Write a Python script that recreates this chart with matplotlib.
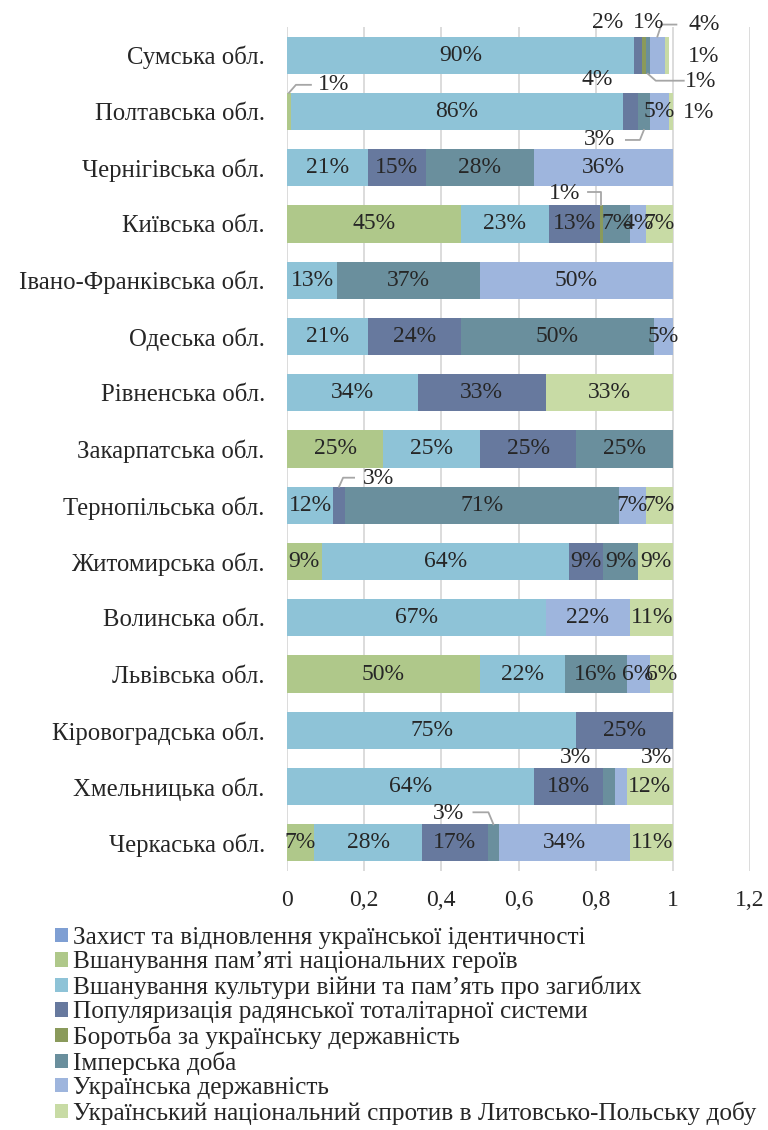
import numpy as np
import matplotlib
matplotlib.use("Agg")
import matplotlib.pyplot as plt
from matplotlib.lines import Line2D

plt.rcParams["font.family"] = ["Liberation Serif", "DejaVu Serif"]

regions = ["Сумська обл.", "Полтавська обл.", "Чернігівська обл.", "Київська обл.",
           "Івано-Франківська обл.", "Одеська обл.", "Рівненська обл.",
           "Закарпатська обл.", "Тернопільська обл.", "Житомирська обл.",
           "Волинська обл.", "Львівська обл.", "Кіровоградська обл.",
           "Хмельницька обл.", "Черкаська обл."]

series_names = ["Захист та відновлення української ідентичності",
                "Вшанування пам’яті національних героїв",
                "Вшанування культури війни та пам’ять про загиблих",
                "Популяризація радянської тоталітарної системи",
                "Боротьба за українську державність",
                "Імперська доба",
                "Українська державність",
                "Український національний спротив в Литовсько-Польську добу"]

colors = ["#7F9FD3", "#AFC88A", "#8EC3D7", "#67799E",
          "#8A9A5B", "#6A8F9D", "#9EB5DD", "#C8DBA5"]

# shares per region, one list per series (same order as regions)
identity   = [0,    0,    0,    0,    0,    0,    0,    0,    0,    0,    0,    0,    0,    0,    0]
heroes     = [0,    0.01, 0,    0.45, 0,    0,    0,    0.25, 0,    0.09, 0,    0.50, 0,    0,    0.07]
war        = [0.90, 0.86, 0.21, 0.23, 0.13, 0.21, 0.34, 0.25, 0.12, 0.64, 0.67, 0.22, 0.75, 0.64, 0.28]
soviet     = [0.02, 0.04, 0.15, 0.13, 0,    0.24, 0.33, 0.25, 0.03, 0.09, 0,    0,    0.25, 0.18, 0.17]
struggle   = [0.01, 0,    0,    0.01, 0,    0,    0,    0,    0,    0,    0,    0,    0,    0,    0]
imperial   = [0.01, 0.03, 0.28, 0.07, 0.37, 0.50, 0,    0.25, 0.71, 0.09, 0,    0.16, 0,    0.03, 0.03]
statehood  = [0.04, 0.05, 0.36, 0.04, 0.50, 0.05, 0,    0,    0.07, 0,    0.22, 0.06, 0,    0.03, 0.34]
resistance = [0.01, 0.01, 0,    0.07, 0,    0,    0.33, 0,    0.07, 0.09, 0.11, 0.06, 0,    0.12, 0.11]

xticks = [0, 0.2, 0.4, 0.6, 0.8, 1.0, 1.2]
xtick_labels = ["0", "0,2", "0,4", "0,6", "0,8", "1", "1,2"]

# small segments labelled beside the bar: offset of the label (px, y down) from segment centre
beside = {
    (0, 3): (-30, -33), (0, 4): (5, -33), (0, 7): (37, 1),
    (1, 3): (-33, -32), (1, 7): (28, 1),
    (13, 5): (-34, -29), (13, 6): (36, -29),
}
# labels with leader lines: edge ('top'/'bottom'), elbow (dx, dy), end dx, label (dx, dy)
leaders = {
    (0, 5): ("bottom", (8, 7), 36, (53, 8)),
    (0, 6): ("top", (4, -12), 19, (47, -12)),
    (1, 1): ("top", (7, -8), 22, (45, -8)),
    (1, 5): ("bottom", (-4, 10), -18, (-44, 10)),
    (3, 4): ("top", (0, -13), -13, (-37, -12)),
    (8, 3): ("top", (4, -9), 15, (39, -8)),
    (14, 5): ("top", (-5, -12), -20, (-45, -11)),
}

data = np.array([identity, heroes, war, soviet, struggle, imperial, statehood, resistance])
ypos = np.arange(len(regions))
bar_h = 0.66
fs = 17
text_col = "#262626"

fig = plt.figure(figsize=(7.68, 11.3), dpi=100)
ax = fig.add_axes([287 / 768, 1 - 871 / 1130, 463 / 768, 844 / 1130])
ax.set_xlim(0, 1.2)
ax.set_ylim(len(regions) - 0.5, -0.5)


def to_px(x, y):
    return ax.transData.transform((x, y))


left = np.zeros(len(regions))
for k, (vals, col, name) in enumerate(zip(data, colors, series_names)):
    ax.barh(ypos, vals, left=left, height=bar_h, color=col, label=name, zorder=3)
    for i, v in enumerate(vals):
        if v <= 0:
            continue
        cx = left[i] + v / 2
        lab = f"{v * 100:.0f}%"
        if (i, k) in beside:
            dx, dy = beside[(i, k)]
            px, py = to_px(cx, ypos[i])
            fig.text(px + dx, py - dy, lab, transform=None, ha="center", va="center",
                     fontsize=fs, color=text_col, zorder=5)
        elif (i, k) in leaders:
            edge, (ex, ey), end, (lx, ly) = leaders[(i, k)]
            yy = ypos[i] - bar_h / 2 if edge == "top" else ypos[i] + bar_h / 2
            px, py = to_px(cx, yy)
            fig.add_artist(Line2D([px, px + ex, px + end], [py, py - ey, py - ey],
                                  transform=None, color="#A6A6A6", lw=1.3, zorder=4))
            fig.text(px + lx, py - ly, lab, transform=None, ha="center", va="center",
                     fontsize=fs, color=text_col, zorder=5)
        else:
            ax.text(cx, ypos[i], lab, ha="center", va="center",
                    fontsize=fs, color=text_col, zorder=5)
    left += vals

ax.set_xticks(xticks)
ax.set_xticklabels(xtick_labels, fontsize=fs, color=text_col)
ax.set_yticks(ypos)
ax.set_yticklabels(regions, fontsize=17.8, color=text_col)
ax.tick_params(length=0, pad=16, axis="y")
ax.tick_params(length=0, pad=14, axis="x")
ax.grid(axis="x", color="#D9D9D9", lw=1.3, zorder=0)
for s in ax.spines.values():
    s.set_visible(False)

fig.legend(loc="upper left", bbox_to_anchor=(45 / 768, 1 - 917 / 1130), frameon=False,
           fontsize=18.2, handlelength=0.5, handleheight=0.5, handletextpad=0.2,
           labelspacing=0.09, borderaxespad=0, labelcolor=text_col)

fig.savefig("out.png", dpi=100)
